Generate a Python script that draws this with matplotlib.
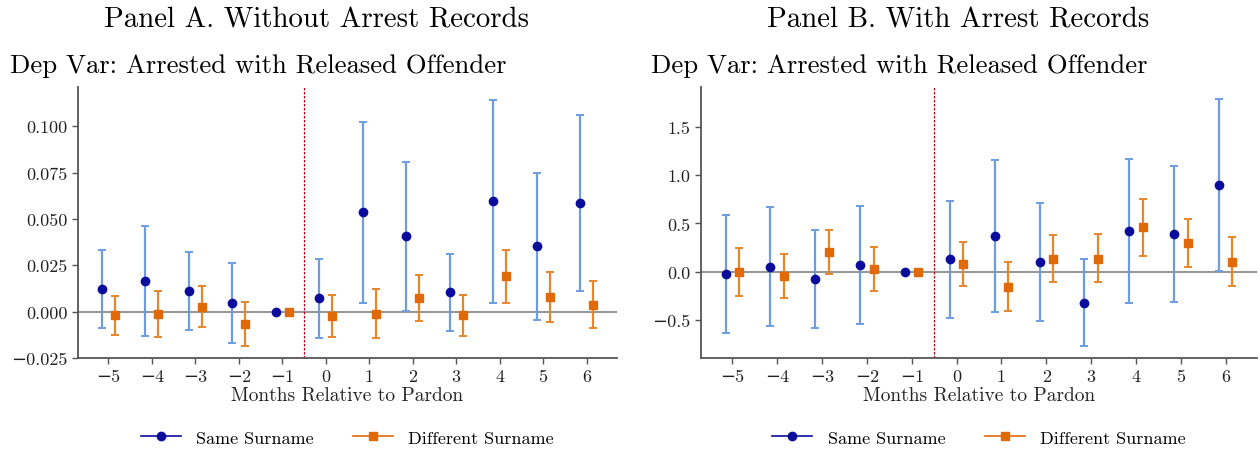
import matplotlib
matplotlib.use("Agg")
import matplotlib.pyplot as plt
from matplotlib.lines import Line2D
import numpy as np

plt.rcParams["font.family"] = ["cmr10", "DejaVu Serif"]
plt.rcParams["mathtext.fontset"] = "cm"
plt.rcParams["axes.formatter.use_mathtext"] = True
plt.rcParams["axes.unicode_minus"] = True

months = [-5, -4, -3, -2, -1, 0, 1, 2, 3, 4, 5, 6]
x_ticks = months

# Panel A: without arrest records
a_same = [0.0121, 0.0164, 0.0111, 0.0045, 0.0, 0.0072, 0.0536, 0.0406, 0.0104, 0.0595, 0.0352, 0.0584]
a_same_lo = [-0.0090, -0.0131, -0.0099, -0.0171, 0.0, -0.0142, 0.0045, 0.0005, -0.0104, 0.0049, -0.0043, 0.0110]
a_same_hi = [0.0333, 0.0462, 0.0324, 0.0261, 0.0, 0.0284, 0.1025, 0.0809, 0.0313, 0.1143, 0.0750, 0.1061]
a_diff = [-0.0020, -0.0014, 0.0027, -0.0068, 0.0, -0.0023, -0.0011, 0.0074, -0.0018, 0.0192, 0.0077, 0.0036]
a_diff_lo = [-0.0124, -0.0138, -0.0085, -0.0187, 0.0, -0.0138, -0.0144, -0.0052, -0.0131, 0.0049, -0.0058, -0.0088]
a_diff_hi = [0.0085, 0.0113, 0.0140, 0.0054, 0.0, 0.0090, 0.0122, 0.0200, 0.0092, 0.0334, 0.0212, 0.0164]
a_yticks = [-0.025, 0.0, 0.025, 0.05, 0.075, 0.1]

# Panel B: with arrest records
b_same = [-0.017, 0.055, -0.069, 0.073, 0.0, 0.128, 0.370, 0.097, -0.318, 0.425, 0.391, 0.899]
b_same_lo = [-0.636, -0.560, -0.577, -0.539, 0.0, -0.480, -0.411, -0.512, -0.764, -0.318, -0.308, 0.010]
b_same_hi = [0.591, 0.674, 0.436, 0.681, 0.0, 0.729, 1.151, 0.709, 0.128, 1.168, 1.089, 1.784]
b_diff = [0.003, -0.045, 0.207, 0.031, 0.0, 0.080, -0.152, 0.138, 0.138, 0.460, 0.297, 0.107]
b_diff_lo = [-0.249, -0.266, -0.017, -0.194, 0.0, -0.145, -0.408, -0.107, -0.107, 0.166, 0.048, -0.149]
b_diff_hi = [0.245, 0.180, 0.436, 0.256, 0.0, 0.304, 0.104, 0.384, 0.387, 0.750, 0.543, 0.363]
b_yticks = [-0.5, 0.0, 0.5, 1.0, 1.5]

panel_titles = ["Panel A. Without Arrest Records", "Panel B. With Arrest Records"]
subtitle = "Dep Var: Arrested with Released Offender"
xlabel = "Months Relative to Pardon"
series_names = ["Same Surname", "Different Surname"]

navy = "#0c0c9c"
light_blue = "#6d9de0"
orange = "#e06a08"
light_orange = "#e8862c"
spine_gray = "#555555"

fig = plt.figure(figsize=(12.6, 4.52), dpi=100)
W, H = 1260, 452
axA = fig.add_axes([78 / W, 1 - 359 / H, 539 / W, 271 / H])
axB = fig.add_axes([701 / W, 1 - 359 / H, 556 / W, 271 / H])

offset = 0.15


def draw_panel(ax, same, same_lo, same_hi, diff, diff_lo, diff_hi, ylim, yticks, fmt):
    x = np.array(months, dtype=float)
    same = np.array(same); diff = np.array(diff)
    s_err = np.vstack([same - np.array(same_lo), np.array(same_hi) - same])
    d_err = np.vstack([diff - np.array(diff_lo), np.array(diff_hi) - diff])
    ax.axhline(0, color="#8c8c8c", lw=1.3, zorder=1)
    ax.axvline(-0.5, color="#c0001a", lw=0.9, ls=(0, (2, 1.2)), zorder=1)
    ax.errorbar(x - offset, same, yerr=s_err, fmt="none", ecolor=light_blue,
                elinewidth=1.6, capsize=3, capthick=1.4, zorder=2)
    ax.errorbar(x + offset, diff, yerr=d_err, fmt="none", ecolor=light_orange,
                elinewidth=1.6, capsize=3, capthick=1.4, zorder=2)
    ax.plot(x - offset, same, ls="none", marker="o", ms=6, color=navy, zorder=3)
    ax.plot(x + offset, diff, ls="none", marker="s", ms=6, color=orange, zorder=3)
    ax.set_xlim(-5.7, 6.7)
    ax.set_ylim(*ylim)
    ax.set_xticks(x_ticks)
    ax.set_yticks(yticks)
    ax.set_yticklabels([fmt.format(v).replace("-", "\u2212") for v in yticks])
    ax.set_xticklabels([str(v).replace("-", "\u2212") for v in x_ticks])
    for side in ("top", "right"):
        ax.spines[side].set_visible(False)
    for side in ("left", "bottom"):
        ax.spines[side].set_color(spine_gray)
        ax.spines[side].set_linewidth(1.3)
    ax.tick_params(axis="both", labelsize=13, colors="#222222", length=4,
                   width=1.0, color=spine_gray)
    ax.set_xlabel(xlabel, fontsize=14, color="#222222", labelpad=2)
    handles = [
        Line2D([], [], color=navy, lw=1.2, marker="o", ms=6),
        Line2D([], [], color=orange, lw=1.2, marker="s", ms=6),
    ]
    ax.legend(handles, series_names, loc="center", bbox_to_anchor=(0.5, -0.295),
              ncol=2, frameon=False, fontsize=13, columnspacing=2.2,
              handlelength=2.2, handletextpad=0.85)


draw_panel(axA, a_same, a_same_lo, a_same_hi, a_diff, a_diff_lo, a_diff_hi,
           (-0.025, 0.1212), a_yticks, "{:.3f}")
draw_panel(axB, b_same, b_same_lo, b_same_hi, b_diff, b_diff_lo, b_diff_hi,
           (-0.89, 1.91), b_yticks, "{:.1f}")

fig.text(317 / W, 1 - 20 / H, panel_titles[0], ha="center", va="center", fontsize=20.8)
fig.text(958 / W, 1 - 20 / H, panel_titles[1], ha="center", va="center", fontsize=20.8)
fig.text(10 / W, 1 - 66 / H, subtitle, ha="left", va="center", fontsize=19.2)
fig.text(651 / W, 1 - 66 / H, subtitle, ha="left", va="center", fontsize=19.2)

fig.savefig("out.png", dpi=100)
